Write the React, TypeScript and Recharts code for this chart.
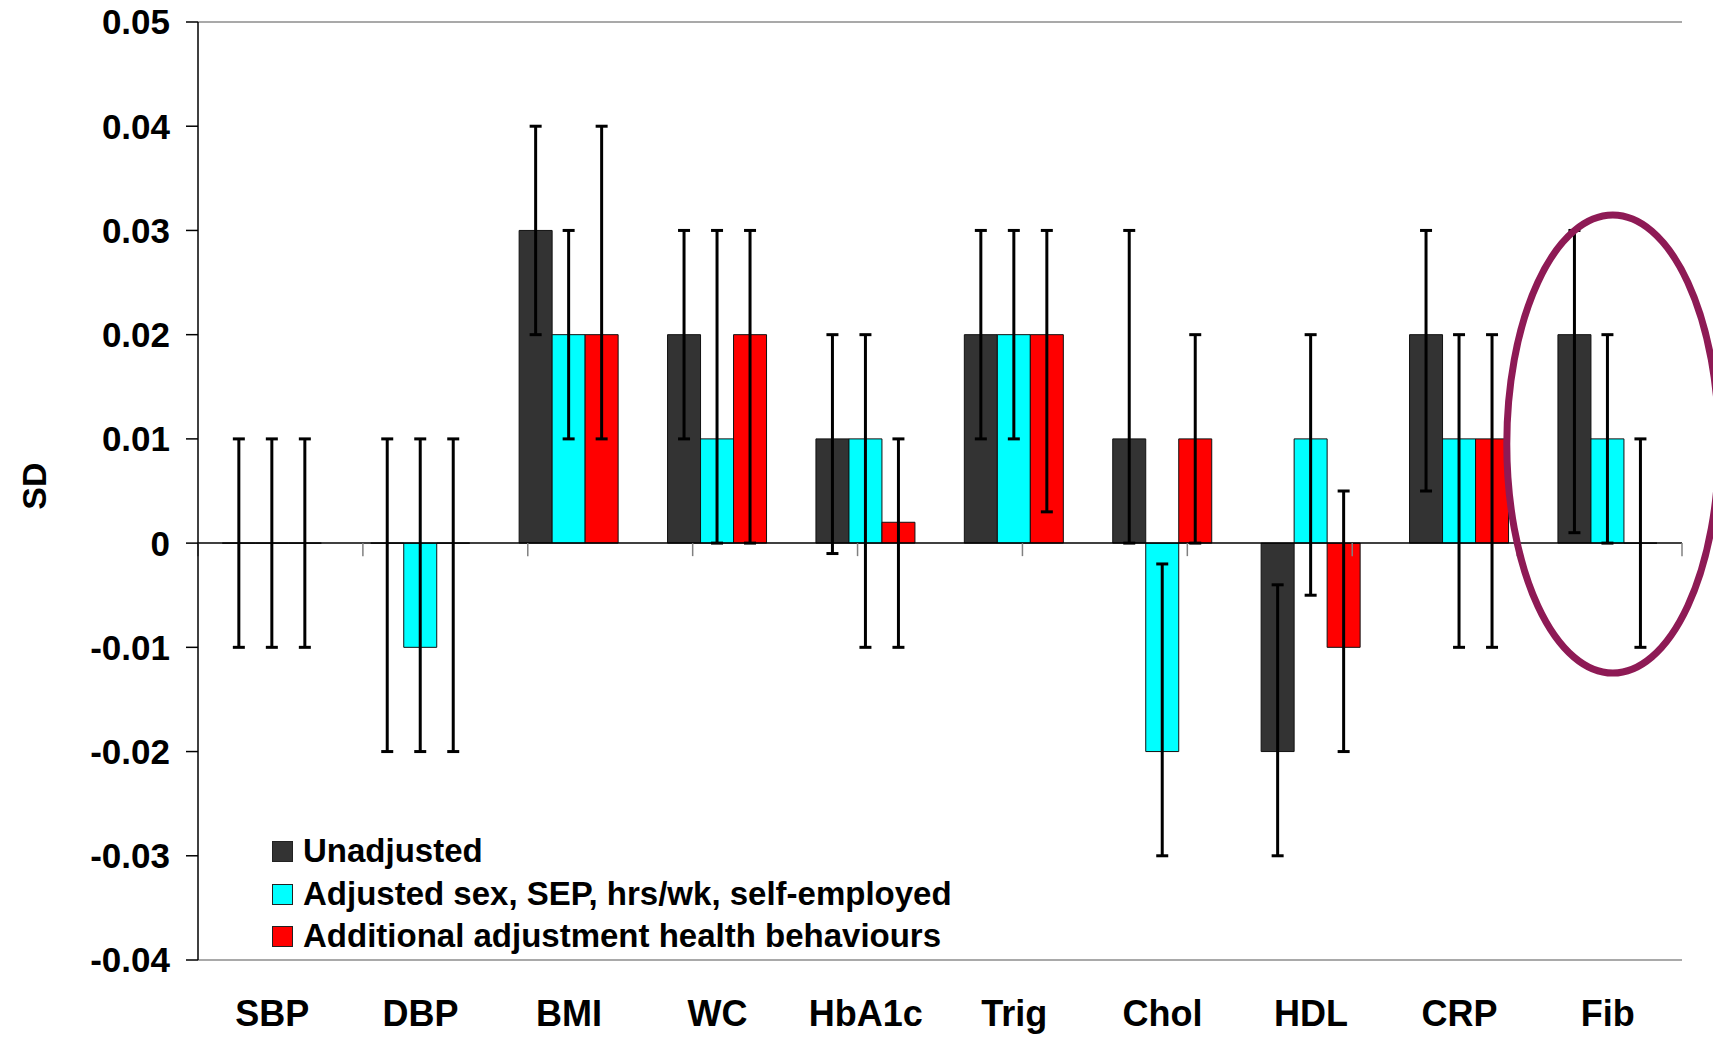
import {
  Bar,
  BarChart,
  ErrorBar,
  Legend,
  ReferenceDot,
  ReferenceLine,
  XAxis,
  YAxis,
} from "recharts";

const categories = ["SBP", "DBP", "BMI", "WC", "HbA1c", "Trig", "Chol", "HDL", "CRP", "Fib"];

// point estimates
const unadjusted = [0, 0, 0.03, 0.02, 0.01, 0.02, 0.01, -0.02, 0.02, 0.02];
const adjusted = [0, -0.01, 0.02, 0.01, 0.01, 0.02, -0.02, 0.01, 0.01, 0.01];
const additional = [0, 0, 0.02, 0.02, 0.002, 0.02, 0.01, -0.01, 0.01, 0];

// confidence limits
const unadjustedLow = [-0.01, -0.02, 0.02, 0.01, -0.001, 0.01, 0, -0.03, 0.005, 0.001];
const unadjustedHigh = [0.01, 0.01, 0.04, 0.03, 0.02, 0.03, 0.03, -0.004, 0.03, 0.03];
const adjustedLow = [-0.01, -0.02, 0.01, 0, -0.01, 0.01, -0.03, -0.005, -0.01, 0];
const adjustedHigh = [0.01, 0.01, 0.03, 0.03, 0.02, 0.03, -0.002, 0.02, 0.02, 0.02];
const additionalLow = [-0.01, -0.02, 0.01, 0, -0.01, 0.003, 0, -0.02, -0.01, -0.01];
const additionalHigh = [0.01, 0.01, 0.04, 0.03, 0.01, 0.03, 0.02, 0.005, 0.02, 0.01];

const yTicks = [-0.04, -0.03, -0.02, -0.01, 0, 0.01, 0.02, 0.03, 0.04, 0.05];

const seriesNames = [
  "Unadjusted",
  "Adjusted sex, SEP, hrs/wk, self-employed",
  "Additional adjustment health behaviours",
];
const colors = ["#333333", "#00FFFF", "#FF0000"];

// recharts drops the error bar of a zero-height bar, so nudge zeros a hair
const nz = (v: number) => (v === 0 ? 1e-9 : v);

const data = categories.map((name, i) => ({
  name,
  u: nz(unadjusted[i]),
  a: nz(adjusted[i]),
  h: nz(additional[i]),
  uErr: [unadjusted[i] - unadjustedLow[i], unadjustedHigh[i] - unadjusted[i]],
  aErr: [adjusted[i] - adjustedLow[i], adjustedHigh[i] - adjusted[i]],
  hErr: [additional[i] - additionalLow[i], additionalHigh[i] - additional[i]],
}));

const FONT = "'Liberation Sans', Arial, sans-serif";

function LegendBox() {
  return (
    <div style={{ fontFamily: FONT, fontWeight: 700, fontSize: 33, color: "#000" }}>
      {seriesNames.map((name, i) => (
        <div
          key={name}
          style={{ display: "flex", alignItems: "center", height: 42.7, lineHeight: "42.7px", whiteSpace: "nowrap" }}
        >
          <span
            style={{
              display: "inline-block",
              width: 19,
              height: 19,
              background: colors[i],
              border: "1px solid #222",
              marginRight: 10,
            }}
          />
          <span>{name}</span>
        </div>
      ))}
    </div>
  );
}

function Oval(props: any) {
  const { cx, cy } = props;
  return (
    <ellipse cx={cx + 5} cy={cy} rx={106} ry={229} fill="none" stroke="#8E1A55" strokeWidth={7} />
  );
}

function SdLabel() {
  return (
    <text
      x={34}
      y={486}
      transform="rotate(-90 34 486)"
      textAnchor="middle"
      dominantBaseline="central"
      fontFamily={FONT}
      fontWeight={700}
      fontSize={34}
      fill="#000"
    >
      SD
    </text>
  );
}

export default function App() {
  const boundaries = categories.map((_, i) => i).concat([categories.length]);
  return (
    <div style={{ position: "fixed", left: 0, top: 0, width: 1713, height: 1037, overflow: "hidden", background: "#fff" }}>
      <BarChart
        width={1713}
        height={1037}
        data={data}
        margin={{ top: 22, right: 31, bottom: 0, left: 0 }}
        barCategoryGap="16.4%"
        barGap={0}
      >
        <XAxis
          dataKey="name"
          axisLine={false}
          tickLine={false}
          tickSize={0}
          height={77}
          tickMargin={40}
          tick={{ fontFamily: FONT, fontWeight: 700, fontSize: 36, fill: "#000" }}
          interval={0}
        />
        <XAxis xAxisId="num" type="number" domain={[0, 10]} hide />
        <YAxis
          width={198}
          domain={[-0.04, 0.05]}
          ticks={yTicks}
          interval={0}
          tickSize={12}
          tickMargin={16}
          tickFormatter={(v: number) => (v === 0 ? "0" : v.toFixed(2))}
          tick={{ fontFamily: FONT, fontWeight: 700, fontSize: 35, fill: "#000" }}
          axisLine={{ stroke: "#000", strokeWidth: 1.5 }}
          tickLine={{ stroke: "#000", strokeWidth: 1.5 }}
          label={<SdLabel />}
        />
        {/* grey plot-area frame */}
        <ReferenceLine y={0.05} stroke="#8c8c8c" strokeWidth={1.5} />
        <ReferenceLine y={-0.04} stroke="#8c8c8c" strokeWidth={1.5} />
        <ReferenceLine xAxisId="num" x={10} stroke="#8c8c8c" strokeWidth={1.5} />
        <ReferenceLine y={0} stroke="#000" strokeWidth={1.5} />
        {boundaries.map((b) => (
          <ReferenceLine
            key={b}
            xAxisId="num"
            segment={[
              { x: b, y: 0 },
              { x: b, y: -0.00125 },
            ]}
            stroke="#808080"
            strokeWidth={1.5}
          />
        ))}
        <Legend
          layout="vertical"
          align="center"
          verticalAlign="middle"
          content={<LegendBox />}
          wrapperStyle={{ left: 272, top: 830, width: 760, height: 130 }}
        />
        <Bar dataKey="u" name={seriesNames[0]} fill={colors[0]} stroke="#111" strokeWidth={1} isAnimationActive={false}>
          <ErrorBar dataKey="uErr" width={6} stroke="#000" strokeWidth={3} direction="y" />
        </Bar>
        <Bar dataKey="a" name={seriesNames[1]} fill={colors[1]} stroke="#111" strokeWidth={1} isAnimationActive={false}>
          <ErrorBar dataKey="aErr" width={6} stroke="#000" strokeWidth={3} direction="y" />
        </Bar>
        <Bar dataKey="h" name={seriesNames[2]} fill={colors[2]} stroke="#111" strokeWidth={1} isAnimationActive={false}>
          <ErrorBar dataKey="hErr" width={6} stroke="#000" strokeWidth={3} direction="y" />
        </Bar>
        <ReferenceDot x="Fib" y={0.0095} r={1} shape={<Oval />} ifOverflow="visible" />
      </BarChart>
    </div>
  );
}
